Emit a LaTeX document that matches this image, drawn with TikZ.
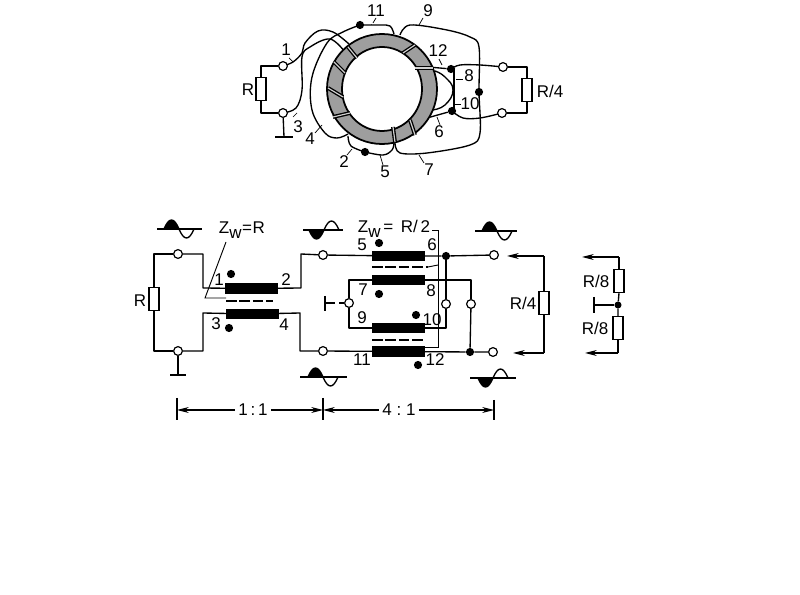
\documentclass[tikz,border=0pt]{standalone}
\usepackage{fontspec}
\setmainfont{Liberation Sans}
\usetikzlibrary{arrows.meta}
\pgfdeclarelayer{bg}
\pgfsetlayers{bg,main}
\newcommand\sinewave[5]{% x0 y xl xr sign
  \begin{scope}[shift={(#1,#2)}]
    \fill[black] (-15,0) .. controls (-10,{0-(#5)*12}) and (-5,{0-(#5)*12}) .. (0,0) -- cycle;
    \draw[wire] (-15,0) .. controls (-10,{0-(#5)*12}) and (-5,{0-(#5)*12}) .. (0,0)
      .. controls (5,{(#5)*12}) and (10,{(#5)*12}) .. (15,0);
    \draw[wire] (#3,0) -- (#4,0);
  \end{scope}}
\newcommand\bandline[4]{\draw[line width=1.15pt,double=black!18,double distance=1pt] (#1,#2) -- (#3,#4);}
\tikzset{
  wire/.style={line width=1.15pt,line join=round},
  thinw/.style={line width=.8pt},
  term/.style={circle,draw,line width=1pt,fill=white,minimum size=7.5pt,inner sep=0pt},
  jdot/.style={circle,fill=black,minimum size=7pt,inner sep=0pt},
  res/.style={rectangle,draw,line width=.9pt,fill=white,minimum width=8.5pt,minimum height=20pt,inner sep=0pt},
  core/.style={rectangle,fill=black,minimum width=45pt,minimum height=8.6pt,inner sep=0pt},
  lbl/.style={inner sep=0pt,font=\fontsize{14.5}{16}\selectfont},
  lead/.style={line width=.6pt},
  dashw/.style={line width=1pt,dash pattern=on 9pt off 2.5pt},
  arr/.style={line width=.9pt,-{Stealth[length=10pt,width=5pt]}},
}
\begin{document}
\begin{tikzpicture}[x=0.03cm,y=-0.03cm]
\useasboundingbox (0,0) rectangle (800,595);
% ---------- toroid ----------
\coordinate (c) at (382,89);
\draw[line width=1.5pt,fill=black!38,even odd rule] (c) circle[x radius=55,y radius=55] (c) circle[x radius=40,y radius=42];
\bandline{348}{47}{357}{58}
\bandline{334}{62}{345}{73}
\bandline{328}{88}{343}{97}
\bandline{333}{117}{350}{113}
\bandline{393}{127}{395}{142}
\bandline{410}{120}{415}{135}
\bandline{415}{68}{433}{68}
\bandline{403}{53}{415}{45}
\node[term] (t1) at (283,66) {};
\node[term] (t3) at (283,113) {};
\node[res] (rtop) at (261,89) {};
\node[term] (t2) at (503,67) {};
\node[term] (t4) at (502,113) {};
\node[res] (rq) at (527,90) {};
\node[jdot] (d11) at (360,25) {};
\node[jdot] (d5) at (365,152) {};
\node[jdot] (d12) at (451,69) {};
\node[jdot] (d10) at (452,111) {};
\node[jdot] (dm) at (479,92) {};
\coordinate (gt) at (284,137);
\coordinate (gl) at (275,137);
\coordinate (gr) at (293,137);
\begin{pgfonlayer}{bg}
\draw[wire] (t1) -- (261,66) -- (rtop.north);
\draw[wire] (t3) -- (261,113) -- (rtop.south);
\draw[wire] (t3) -- (gt);
\draw[line width=1.8pt] (gl) -- (gr);
\draw[wire] (t2) -- (527,67) -- (rq.north);
\draw[wire] (t4) -- (527,113) -- (rq.south);
% wire 1
\draw[wire] plot[smooth,tension=.6] coordinates {(t1) (293,62) (302,53) (305,43) (318,31) (333,32) (349,44)};
% wire 3
\draw[wire] plot[smooth,tension=.6] coordinates {(t3) (296,108) (302,90) (302,57) (310,47) (330,39) (345,52)};
% wire 4 + 11
\draw[wire] plot[smooth,tension=.6] coordinates {(348,134) (337,138) (325,133) (312,110) (312,77) (327,43) (343,32) (d11)};
\draw[wire] plot[smooth,tension=.6] coordinates {(d11) (380,25) (390,26) (394,34)};
% wire 2 + 5
\draw[wire] plot[smooth,tension=.6] coordinates {(348,136) (351,146) (d5)};
\draw[wire] plot[smooth,tension=.6] coordinates {(d5) (383,155) (392,150) (394,143)};
% wire 9 + 7
\draw[wire] plot[smooth,tension=.55] coordinates {(400,35) (410,25) (447,30) (470,37) (479,47) (dm) (480,133) (470,145) (427,153) (400,153) (395,143)};
% wire 12
\draw[wire] (417,66) -- (d12);
\draw[wire] plot[smooth,tension=.6] coordinates {(d12) (460,65) (480,65) (t2)};
% wire 8
\draw[wire] plot[smooth,tension=.8] coordinates {(435,71) (445,77) (453,90) (445,105) (432,110)};
% link
\draw[wire] (454,69) -- (454,111);
% wire 6 + 10
\draw[wire] (427,118) -- (d10);
\draw[wire] plot[smooth,tension=.6] coordinates {(d10) (463,118) (480,118) (t4)};
% leaders
\draw[lead] (289,58) -- (293,62);
\draw[lead] (293,117) -- (297,113);
\draw[lead] (315,133) -- (322,125);
\draw[lead] (347,155) -- (352,149);
\draw[lead] (383,165) -- (380,155);
\draw[lead] (373,23) -- (376,18);
\draw[lead] (419,25) -- (423,18);
\draw[lead] (439,59) -- (442,65);
\draw[lead] (456,79) -- (463,79);
\draw[lead] (454,104) -- (461,104);
\draw[lead] (437,117) -- (440,125);
\draw[lead] (419,155) -- (424,163);
\end{pgfonlayer}
\node[lbl] (l1) at (286,50) {1};
\node[lbl] (l3) at (298,127) {3};
\node[lbl] (l4) at (310,139) {4};
\node[lbl] (l2) at (344,162) {2};
\node[lbl] (l5) at (385,172) {5};
\node[lbl] (l11) at (376,11) {11};
\node[lbl] (l9) at (428,11) {9};
\node[lbl] (l12) at (438,51) {12};
\node[lbl] (l8) at (469,76) {8};
\node[lbl] (l10) at (470,104) {10};
\node[lbl] (l6) at (439,132) {6};
\node[lbl] (l7) at (429,170) {7};
\node[lbl] (lR) at (248,90) {R};
\node[lbl] (lRq) at (550,91) {R/4};
% ---------- schematic ----------
\node[term] (a1) at (178,254) {};
\node[term] (a2) at (178,351) {};
\node[res] (aR) at (154,299) {};
\node[core] (c1) at (251.5,288.5) {};
\node[core] (c2) at (252.5,314) {};
\node[term] (b1) at (323,255) {};
\node[term] (b2) at (323,351) {};
\node[core] (c5) at (398.5,256) {};
\node[core] (c7) at (398.5,280) {};
\node[core] (c9) at (398.5,328) {};
\node[core] (c11) at (398.5,351.5) {};
\node[term] (e1) at (494,255) {};
\node[term] (e2) at (493,352) {};
\node[term] (mid) at (349,303) {};
\node[term] (m1) at (446,304) {};
\node[term] (m2) at (471,304) {};
\node[jdot] (j1) at (446,256) {};
\node[jdot] (j2) at (470,352) {};
\node[res] (Rq) at (544,303) {};
\node[res] (R8a) at (619,281) {};
\node[res] (R8b) at (618,328) {};
\node[jdot,minimum size=6pt] (j3) at (618,305) {};
\coordinate (g1) at (178,375); \coordinate (g1l) at (170,375); \coordinate (g1r) at (186,375);
\coordinate (g2) at (325,303); \coordinate (g2t) at (325,296); \coordinate (g2b) at (325,311);
\coordinate (g3) at (594,305); \coordinate (g3t) at (594,297); \coordinate (g3b) at (594,313);
\coordinate (a3) at (507,256); \coordinate (a4) at (513,353);
\coordinate (a5) at (582,257); \coordinate (a6) at (585,353);
\coordinate (zl) at (226,242); \coordinate (zb) at (205,298); \coordinate (zr) at (226,298);
\coordinate (k1) at (177,410); \coordinate (k2) at (323,410); \coordinate (k3) at (494,410);
\begin{pgfonlayer}{bg}
\draw[wire] (a1) -- (154,254) -- (aR.north);
\draw[wire] (a2) -- (154,351) -- (aR.south);
\draw[wire] (a1) -- (203,254) -- (203,288) -- (c1);
\draw[wire] (a2) -- (203,351) -- (203,313) -- (c2);
\draw[wire] (a2) -- (g1);
\draw[line width=1.8pt] (g1l) -- (g1r);
\draw[wire] (c1) -- (301,288) -- (301,254) -- (b1);
\draw[wire] (c2) -- (300,313) -- (300,351) -- (b2);
\draw[wire] (b1) -- (c5);
\draw[wire] (b2) -- (c11);
\draw[wire] (c5) -- (j1) -- (e1);
\draw[wire] (j1) -- (m1);
\draw[wire] (m1) -- (446,328) -- (c9);
\draw[wire] (c7) -- (471,280) -- (m2);
\draw[wire] (m2) -- (j2);
\draw[wire] (c11) -- (j2) -- (e2);
\draw[wire] (c7) -- (349,280) -- (mid);
\draw[wire] (mid) -- (349,328) -- (c9);
\draw[wire] (g2) -- (335,303);
\draw[wire] (339,303) -- (mid);
\draw[line width=1.8pt] (g2t) -- (g2b);
\draw[thinw] (zl) -- (zb) -- (zr);
\draw[thinw] (432,230) -- (438,230) -- (438,347) -- (425,347);
\draw[thinw] (438,265) -- (428,267);
\draw[wire] (Rq.north) -- (544,256);
\draw[wire] (Rq.south) -- (544,353);
\draw[arr] (544,256) -- (a3);
\draw[arr] (544,353) -- (a4);
\draw[wire] (R8a.north) -- (619,257);
\draw[wire] (R8b.south) -- (618,353);
\draw[arr] (619,257) -- (a5);
\draw[arr] (618,353) -- (a6);
\draw[wire] (R8a.south) -- (j3) -- (R8b.north);
\draw[wire] (j3) -- (g3);
\draw[line width=1.8pt] (g3t) -- (g3b);
\end{pgfonlayer}
\draw[dashw] (226,301) -- (273,301);
\draw[dashw] (372,267) -- (428,267);
\draw[dashw] (372,340) -- (423,340);
% dots
\node[jdot] (p1) at (231,274) {};
\node[jdot] (p3) at (229,328) {};
\node[jdot] (p5) at (379,243) {};
\node[jdot] (p7) at (379,294) {};
\node[jdot] (p10) at (416,315) {};
\node[jdot] (p12) at (418,365) {};
% labels
\node[lbl] (s1) at (219,280) {1};
\node[lbl] (s2) at (286,280) {2};
\node[lbl] (s3) at (216,324) {3};
\node[lbl] (s4) at (284,325) {4};
\node[lbl] (s5) at (362,245) {5};
\node[lbl] (s6) at (432,245) {6};
\node[lbl] (s7) at (363,290) {7};
\node[lbl] (s8) at (431,291) {8};
\node[lbl] (s9) at (362,318) {9};
\node[lbl] (s10) at (432,320) {10};
\node[lbl] (s11) at (362,360) {11};
\node[lbl] (s12) at (435,360) {12};
\node[lbl] (sR) at (140,301) {R};
\node[lbl] (z1) at (242,230) {Z\raisebox{-4pt}{w}\kern.5pt=\kern.5pt R};
\node[lbl] (z2) at (394,229) {Z\raisebox{-4pt}{w}\,=\, R/\,2};
\node[lbl] (sRq) at (523,303) {R/4};
\node[lbl] (sR8a) at (596,281) {R/8};
\node[lbl] (sR8b) at (595,328) {R/8};
% sine waves
\sinewave{179}{229}{-22}{23}{1}
\sinewave{324}{230}{-21}{19}{-1}
\sinewave{323}{377}{-23}{24}{1}
\sinewave{497}{231}{-22}{20}{1}
\sinewave{493}{378}{-23}{23}{-1}
% dimension
\node[lbl,fill=white,inner xsep=3pt] (d1) at (253,410) {1\,:\,1};
\node[lbl,fill=white,inner xsep=3pt] (d2) at (399,410) {4\;:\;1};
\begin{pgfonlayer}{bg}
\draw[arr] (d1) -- (k1);
\draw[arr] (d1) -- (k2);
\draw[arr] (d2) -- (k2);
\draw[arr] (d2) -- (k3);
\draw[wire] (177,398) -- (177,420);
\draw[wire] (323,398) -- (323,420);
\draw[wire] (494,400) -- (494,420);
\end{pgfonlayer}
\end{tikzpicture}
\end{document}
